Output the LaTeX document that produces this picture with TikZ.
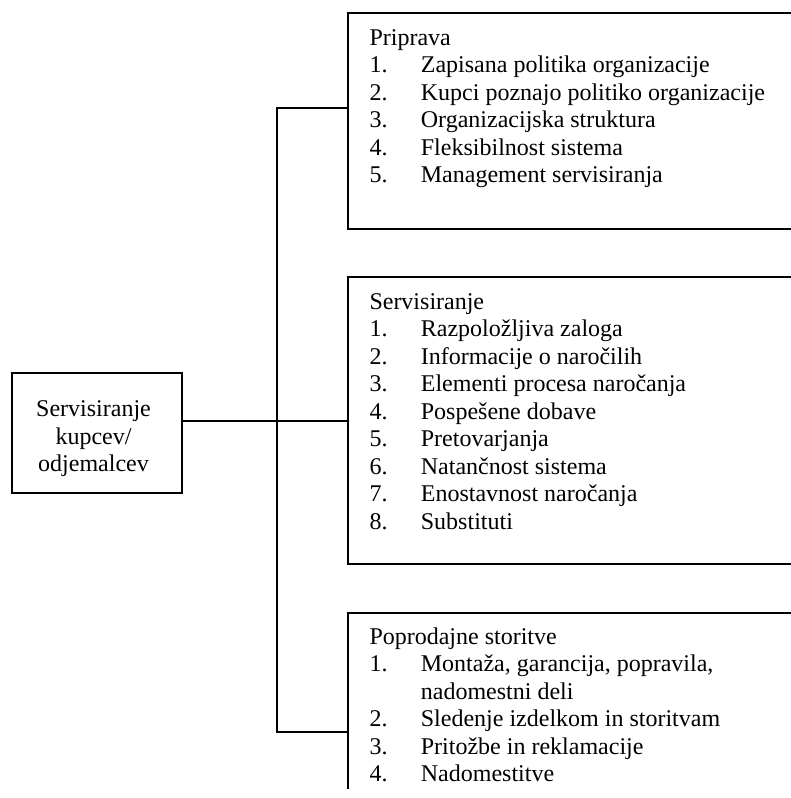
\documentclass[tikz,border=0pt]{standalone}
\usepackage{fontspec}
\setmainfont{Liberation Serif}
\begin{document}
\begin{tikzpicture}[x=1pt,y=-1pt,
  boxframe/.style={draw=black, line width=1.8pt, rectangle, inner sep=0pt},
  conn/.style={draw=black, line width=1.8pt},
  txt/.style={anchor=base west, inner sep=0pt, font=\fontsize{24}{27.5}\selectfont},
  ctxt/.style={anchor=base, inner sep=0pt, font=\fontsize{24}{27.5}\selectfont}]
\useasboundingbox (0,0) rectangle (791,798);
\clip (0,0) rectangle (791,788.5);
% boxes
\node[boxframe, minimum width=169.4pt, minimum height=120.6pt] (m) at (97,433) {};
\node[boxframe, minimum width=472pt, minimum height=216pt] (b1) at (584,120.7) {};
\node[boxframe, minimum width=472pt, minimum height=286.7pt] (b2) at (584,420.65) {};
\node[boxframe, minimum width=472pt, minimum height=300pt] (b3) at (584,762.7) {};
% main text
\node[ctxt] (m1) at (93.5,416.7) {Servisiranje};
\node[ctxt] (m2) at (93.5,444.2) {kupcev/};
\node[ctxt] (m3) at (93.5,471.7) {odjemalcev};
% box 1
\node[txt] (t1) at (369.3,45) {Priprava};
\foreach \t [count=\i] in {Zapisana politika organizacije, Kupci poznajo politiko organizacije, Organizacijska struktura, Fleksibilnost sistema, Management servisiranja}{
  \node[txt] (a\i n) at (369.3,{45+27.5*\i}) {\i.};
  \node[txt] (a\i) at (420.7,{45+27.5*\i}) {\t};
}
% box 2
\node[txt] (t2) at (369.3,309) {Servisiranje};
\foreach \t [count=\i] in {Razpoložljiva zaloga, Informacije o naročilih, Elementi procesa naročanja, Pospešene dobave, Pretovarjanja, Natančnost sistema, Enostavnost naročanja, Substituti}{
  \node[txt] (s\i n) at (369.3,{309+27.5*\i}) {\i.};
  \node[txt] (s\i) at (420.7,{309+27.5*\i}) {\t};
}
% box 3
\node[txt] (t3) at (369.3,644.2) {Poprodajne storitve};
\node[txt] (p1n) at (369.3,671.7) {1.};
\node[txt] (p1) at (420.7,671.7) {Montaža, garancija, popravila,};
\node[txt] (p1b) at (420.7,699.2) {nadomestni deli};
\node[txt] (p2n) at (369.3,726.7) {2.};
\node[txt] (p2) at (420.7,726.7) {Sledenje izdelkom in storitvam};
\node[txt] (p3n) at (369.3,754.2) {3.};
\node[txt] (p3) at (420.7,754.2) {Pritožbe in reklamacije};
\node[txt] (p4n) at (369.3,781.7) {4.};
\node[txt] (p4) at (420.7,781.7) {Nadomestitve};
% connectors
\coordinate (sp1) at (276.7,108.3);
\coordinate (sp2) at (276.7,421);
\coordinate (sp3) at (276.7,732.3);
\draw[conn] (sp1 -| b1.west) -- (sp1) -- (sp3) -- (sp3 -| b3.west);
\draw[conn] (sp2 -| m.east) -- (sp2 -| b2.west);
\end{tikzpicture}
\end{document}
